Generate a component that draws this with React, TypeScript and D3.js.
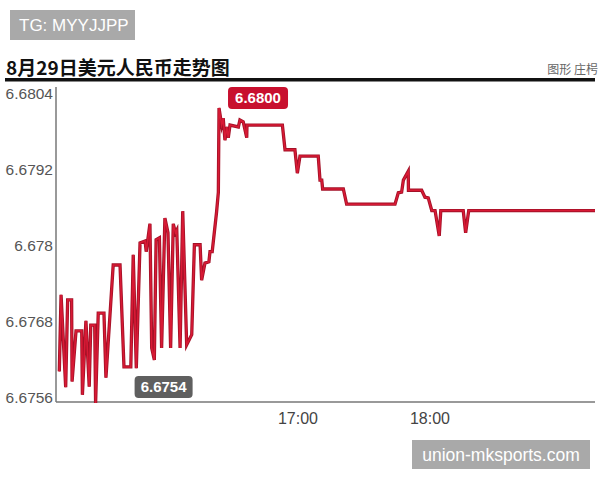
import React from 'react';
import * as d3 from 'd3';

// minutes after 15:00
const minutes = [
  11.5, 12.3, 14.4, 15.3, 17.1, 17.3, 19.1, 21.7, 22.0, 23.6, 25.1, 25.8, 27.6, 28.0,
  29.2, 31.8, 32.7, 36.0, 39.1, 40.9, 44.0, 45.1, 46.5, 48.2, 50.5, 51.0, 52.7, 53.5,
  54.7, 55.5, 57.0, 58.0, 59.5, 60.9, 62.1, 63.3, 64.3, 64.9, 66.4, 67.6, 69.4, 71.7,
  72.9, 75.5, 76.2, 77.7, 79.5, 80.0, 81.0, 83.0, 83.8, 84.1, 85.3, 86.0, 86.8, 87.6,
  88.3, 89.1, 92.9, 93.6, 95.1, 96.7, 96.8, 112.9, 114.1, 118.6, 119.7, 120.9, 129.2,
  130.0, 130.8, 131.2, 140.6, 142.1, 164.1, 165.6, 167.1, 167.9, 170.1, 170.2, 176.2,
  177.7, 179.2, 180.8, 182.3, 184.2, 184.9, 195.1, 196.2, 197.6, 255.0,
];
const rates = [
  6.67602, 6.67723, 6.67577, 6.67715, 6.67715, 6.67586, 6.67666, 6.67666, 6.67565, 6.67682,
  6.67578, 6.67675, 6.67675, 6.67552, 6.67694, 6.67694, 6.67592, 6.6777, 6.6777, 6.67609,
  6.67609, 6.67786, 6.67607, 6.67805, 6.67808, 6.67791, 6.67835, 6.67639, 6.6762, 6.6781,
  6.67813, 6.67639, 6.67844, 6.67821, 6.67639, 6.67835, 6.67821, 6.67825, 6.67639, 6.67855,
  6.67644, 6.6766, 6.67802, 6.67802, 6.67746, 6.67773, 6.67775, 6.67791, 6.67791, 6.67854,
  6.67885, 6.68018, 6.67991, 6.68002, 6.67967, 6.67988, 6.67971, 6.67991, 6.67988, 6.67999,
  6.67996, 6.67971, 6.67991, 6.67991, 6.67952, 6.67952, 6.67915, 6.67942, 6.67942, 6.67904,
  6.67904, 6.6789, 6.6789, 6.67866, 6.67866, 6.67884, 6.67885, 6.67904, 6.67918, 6.67888,
  6.67888, 6.67877, 6.67876, 6.67856, 6.67856, 6.67816, 6.67856, 6.67856, 6.67821, 6.67856,
  6.67856,
];

const yTicks = [6.6756, 6.6768, 6.678, 6.6792, 6.6804];
const xTicks = [120, 180];
const xTickLabels = ['17:00', '18:00'];
const highLabel = '6.6800';
const lowLabel = '6.6754';

const W = 600;
const H = 480;
const font = '"Liberation Sans", Arial, Helvetica, sans-serif';
const cjk = '"Noto Sans CJK SC", "Noto Sans", sans-serif';

export default function App() {
  const x = d3.scaleLinear().domain([10, 255]).range([56, 595]);
  const y = d3.scaleLinear().domain([6.6756, 6.6804]).range([398, 94]);

  const pts = minutes.map((m, i) => [m, rates[i]] as [number, number]);
  const line = d3.line<[number, number]>()
    .x(d => x(d[0]))
    .y(d => y(d[1]));
  const path = line(pts) || '';

  const hiIdx = d3.maxIndex(rates);
  const loIdx = d3.minIndex(rates);
  const hx = x(minutes[hiIdx]) + 39;
  const hy = y(rates[hiIdx]) - 10;
  const lx = x(minutes[loIdx]) + 68;
  const ly = y(rates[loIdx]) - 16;

  return (
    <svg width={W} height={H} style={{ position: 'absolute', left: 0, top: 0, background: '#fff' }}>
      {/* watermark top */}
      <rect x={10} y={10} width={125} height={30} fill="#a9a9a9" />
      <text x={19} y={31} fontFamily={font} fontSize={17} fill="#fff">TG: MYYJJPP</text>

      {/* title */}
      <text x={6} y={75} fontFamily={cjk} fontSize={19} fontWeight="bold" fill="#111">
        8月29日美元人民币走势图
      </text>
      <text x={598} y={74} fontFamily={cjk} fontSize={12} fill="#666" textAnchor="end">图形 庄枵</text>
      <rect x={5} y={78} width={590} height={3.5} fill="#111" />

      {/* axes */}
      <line x1={56} x2={56} y1={87} y2={402} stroke="#777" strokeWidth={1.5} />
      <line x1={56} x2={595} y1={402} y2={402} stroke="#777" strokeWidth={1.5} />
      {yTicks.map(t => (
        <text key={t} x={53} y={y(t)} dy="0.35em" textAnchor="end" fontFamily={font} fontSize={15.5} fill="#555">
          {String(t)}
        </text>
      ))}
      {xTicks.map((t, i) => (
        <text key={t} x={x(t)} y={424} textAnchor="middle" fontFamily={font} fontSize={16} fill="#444">
          {xTickLabels[i]}
        </text>
      ))}

      {/* series */}
      <path d={path} fill="none" stroke="#a31127" strokeWidth={3.3} strokeLinejoin="miter" strokeMiterlimit={6} />
      <path d={path} fill="none" stroke="#d81a35" strokeWidth={1.6} strokeLinejoin="miter" strokeMiterlimit={6} />

      {/* callouts */}
      <rect x={hx - 30} y={hy - 11} width={60} height={22} rx={4} fill="#c8102e" />
      <text x={hx} y={hy} dy="0.36em" textAnchor="middle" fontFamily={font} fontSize={15} fontWeight="bold" fill="#fff">
        {highLabel}
      </text>
      <rect x={lx - 29} y={ly - 11} width={58} height={22} rx={4} fill="#5f5f5f" />
      <text x={lx} y={ly} dy="0.36em" textAnchor="middle" fontFamily={font} fontSize={15} fontWeight="bold" fill="#fff">
        {lowLabel}
      </text>

      {/* watermark bottom */}
      <rect x={412} y={440} width={178} height={29} fill="#a9a9a9" />
      <text x={501} y={461} textAnchor="middle" fontFamily={font} fontSize={17.5} fill="#fff">union-mksports.com</text>
    </svg>
  );
}
